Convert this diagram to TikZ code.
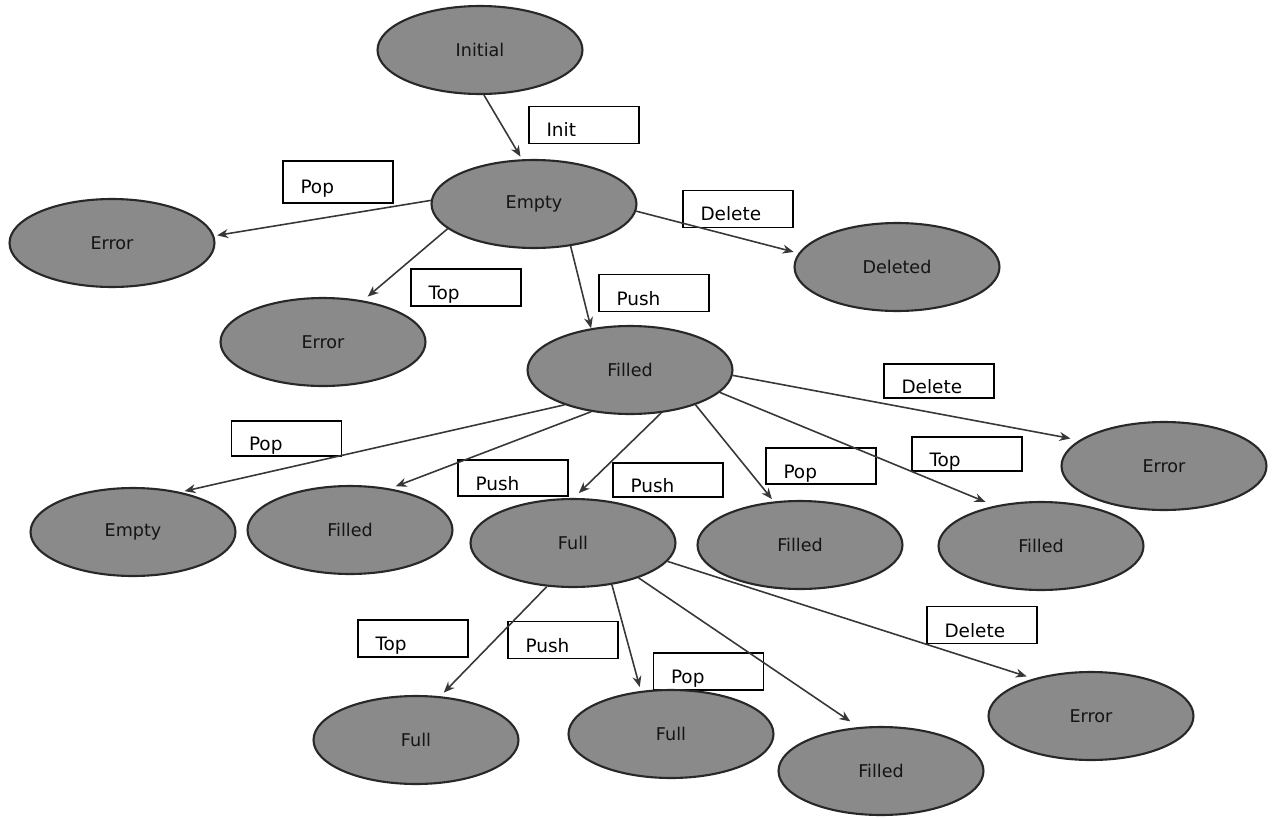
\documentclass[tikz,border=0pt]{standalone}
\usepackage{fontspec}
\setmainfont{DejaVu Sans}
\usetikzlibrary{shapes.geometric,arrows.meta}
\definecolor{stategray}{RGB}{138,138,138}
\definecolor{rimgray}{RGB}{40,40,40}
\definecolor{linegray}{RGB}{55,55,55}
\begin{document}
\begin{tikzpicture}[x=0.02cm,y=-0.02cm,
  state/.style={ellipse, draw=rimgray, line width=1.2pt, fill=stategray,
    minimum width=4.1cm, minimum height=1.76cm, inner sep=0pt,
    text=black!92, font=\fontsize{10}{12}\selectfont},
  lbl/.style={rectangle, draw=black, line width=0.8pt, fill=white,
    minimum width=2.2cm, minimum height=0.74cm, text width=1.5cm,
    inner xsep=0.35cm, inner ysep=0pt, text height=0.48cm, text depth=0pt,
    align=left, font=\fontsize{10.5}{12}\selectfont},
  conn/.style={draw=linegray, line width=0.9pt,
    -{Stealth[length=2.2mm,width=1.8mm]}}]
\useasboundingbox (0,0) rectangle (1275,818);

% transition labels
\node[lbl] (lInit) at (584,125) {Init};
\node[lbl, minimum height=0.84cm] (lPopA) at (338,182) {Pop};
\node[lbl] (lDelA) at (738,209) {Delete};
\node[lbl] (lTopA) at (466,287.5) {Top};
\node[lbl] (lPushA) at (654,293) {Push};
\node[lbl, minimum height=0.68cm] (lDelB) at (939,381) {Delete};
\node[lbl, minimum height=0.7cm] (lPopB) at (286.5,438.5) {Pop};
\node[lbl, minimum height=0.72cm] (lPushB) at (513,478) {Push};
\node[lbl, minimum height=0.68cm] (lPushC) at (668,480) {Push};
\node[lbl, minimum height=0.72cm] (lPopC) at (821,466) {Pop};
\node[lbl, minimum height=0.68cm] (lTopB) at (967,454) {Top};
\node[lbl] (lDelC) at (982,625) {Delete};
\node[lbl] (lTopC) at (413,638.5) {Top};
\node[lbl] (lPushD) at (563,640) {Push};
\node[lbl] (lPopD) at (708.5,671.5) {Pop};

% states
\node[state] (initial) at (480,50) {Initial};
\node[state] (empty) at (534,204) {Empty};
\node[state] (errA) at (112,243) {Error};
\node[state] (deleted) at (897,267) {Deleted};
\node[state] (errB) at (323,342) {Error};
\node[state] (filled) at (630,370) {Filled};
\node[state] (errC) at (1164,466) {Error};
\node[state] (emptyB) at (133,532) {Empty};
\node[state] (filledB) at (350,530) {Filled};
\node[state] (full) at (573,543) {Full};
\node[state] (filledC) at (800,545) {Filled};
\node[state] (filledD) at (1041,546) {Filled};
\node[state] (fullB) at (416,740) {Full};
\node[state] (fullC) at (671,734) {Full};
\node[state] (filledE) at (881,771) {Filled};
\node[state] (errD) at (1091,716) {Error};

% transitions
\draw[conn, shorten >=0.06cm] (initial.-85.8) -- (empty.105.5);
\draw[conn, shorten >=0.06cm] (empty.178.9) -- (errA.4.4);
\draw[conn, shorten >=0.12cm] (empty.196.6) -- (errB.46.3);
\draw[conn, shorten >=0.1cm] (empty.-4.3) -- (deleted.172.7);
\draw[conn] (empty.-49.7) -- (filled.133.6);
\draw[conn, shorten >=0.08cm] (filled.208) -- (emptyB.40.7);
\draw[conn, shorten >=0.12cm] (filled.227.4) -- (filledB.46.3);
\draw[conn, shorten >=0.14cm] (filled.-54.6) -- (full.89);
\draw[conn, shorten >=0.06cm] (filled.-28.5) -- (filledC.121);
\draw[conn, shorten >=0.2cm] (filled.-14.7) -- (filledD.139);
\draw[conn, shorten >=0.18cm] (filled.-3.9) -- (errC.163.4);
\draw[conn, shorten >=0.1cm] (full.239.4) -- (fullB.61.6);
\draw[conn, shorten >=0.08cm] (full.-47.8) -- (fullC.125.9);
\draw[conn, shorten >=0.2cm] (full.-28.9) -- (filledE.117.8);
\draw[conn, shorten >=0.14cm] (full.-11.3) -- (errD.147.4);
\end{tikzpicture}
\end{document}
